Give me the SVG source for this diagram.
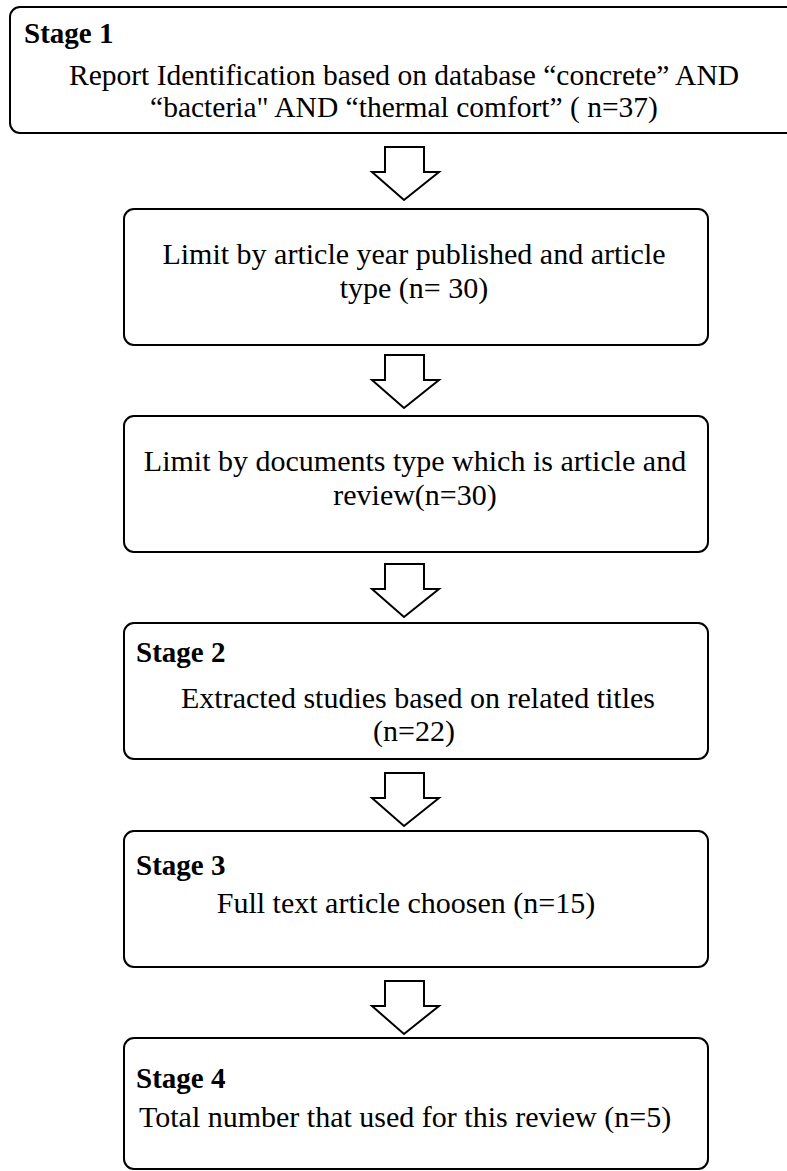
<svg xmlns="http://www.w3.org/2000/svg" width="787" height="1171" viewBox="0 0 787 1171">
<style>
.box{fill:#fff;stroke:#000;stroke-width:2}
.t{font-family:"Liberation Serif","Times New Roman",serif;font-size:30px;fill:#000}
.h{font-family:"Liberation Serif","Times New Roman",serif;font-size:29px;font-weight:bold;fill:#000}
.arr{fill:#fff;stroke:#000;stroke-width:2;stroke-linejoin:miter}
</style>
<defs>
<path id="down" class="arr" d="M385,0 H424 V25 H439 L404,53 L372,25 H385 Z"/>
</defs>
<rect width="787" height="1171" fill="#fff"/>
<g id="connectors">
<use href="#down" y="147"/>
<use href="#down" y="355"/>
<use href="#down" y="564"/>
<use href="#down" y="773"/>
<use href="#down" y="981"/>
</g>
<g id="stage1">
<rect class="box" x="10" y="7" width="790" height="126" rx="10"/>
<text class="h" x="24" y="43">Stage 1</text>
<text class="t" x="404" y="85" text-anchor="middle" style="font-size:29.5px">Report Identification based on database “concrete” AND</text>
<text class="t" x="404" y="117" text-anchor="middle" style="font-size:29.5px">“bacteria" AND “thermal comfort” ( n=37)</text>
</g>
<g id="limit-year">
<rect class="box" x="124" y="209" width="584" height="136" rx="10"/>
<text class="t" x="414" y="264" text-anchor="middle">Limit by article year published and article</text>
<text class="t" x="414" y="298" text-anchor="middle">type (n= 30)</text>
</g>
<g id="limit-type">
<rect class="box" x="124" y="416" width="584" height="136" rx="10"/>
<text class="t" x="415" y="471" text-anchor="middle">Limit by documents type which is article and</text>
<text class="t" x="415" y="505" text-anchor="middle">review(n=30)</text>
</g>
<g id="stage2">
<rect class="box" x="124" y="623" width="584" height="136" rx="10"/>
<text class="h" x="136" y="662">Stage 2</text>
<text class="t" x="418" y="708" text-anchor="middle">Extracted studies based on related titles</text>
<text class="t" x="414" y="741" text-anchor="middle">(n=22)</text>
</g>
<g id="stage3">
<rect class="box" x="124" y="831" width="584" height="136" rx="10"/>
<text class="h" x="136" y="875">Stage 3</text>
<text class="t" x="406" y="913" text-anchor="middle">Full text article choosen (n=15)</text>
</g>
<g id="stage4">
<rect class="box" x="124" y="1038" width="584" height="131" rx="10"/>
<text class="h" x="136" y="1088">Stage 4</text>
<text class="t" x="139" y="1127">Total number that used for this review (n=5)</text>
</g>
</svg>
